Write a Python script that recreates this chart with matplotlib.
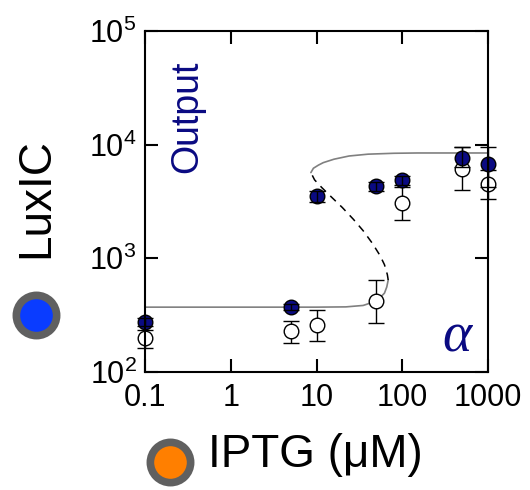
import matplotlib
matplotlib.use("Agg")
import matplotlib.pyplot as plt
import numpy as np

plt.rcParams['font.family'] = ['Liberation Sans', 'DejaVu Sans']
plt.rcParams['mathtext.fontset'] = 'custom'
plt.rcParams['mathtext.rm'] = 'Liberation Sans'
plt.rcParams['mathtext.it'] = 'Liberation Sans:italic'

# IPTG concentrations (uM)
iptg = [0.1, 5, 10, 50, 100, 500, 1000]

# LuxIC output, filled markers (mean, lower bound, upper bound)
filled_y = [275, 372, 3500, 4300, 4850, 7700, 6700]
filled_lo = [255, 352, 3100, 3950, 4450, 6300, 4200]
filled_hi = [297, 393, 3950, 4700, 5300, 9600, 9600]

# LuxIC output, open markers (mean, lower bound, upper bound)
open_y = [199, 229, 258, 420, 3090, 6170, 4480]
open_lo = [162, 180, 187, 269, 2190, 3960, 3310]
open_hi = [236, 280, 350, 641, 4200, 9600, 6000]

# Model curve: lower stable, unstable and upper stable branches
low_x = [0.1, 1, 10, 22, 35, 45, 55, 62, 66, 68.6]
low_y = [372, 372, 372, 374, 385, 410, 450, 494, 560, 645]
mid_x = [68.6, 67, 62, 55, 45, 35, 27, 20, 15, 11.5, 9.5, 8.6]
mid_y = [645, 720, 880, 1060, 1350, 1750, 2200, 2800, 3450, 4200, 4900, 5680]
high_x = [8.6, 9.2, 10.5, 12, 16, 24, 40, 80, 150, 400, 1000]
high_y = [5680, 6200, 6600, 6950, 7450, 7950, 8250, 8400, 8450, 8450, 8450]

xticks = [0.1, 1, 10, 100, 1000]
xticklabels = ['0.1', '1', '10', '100', '1000']
yticks = [1e2, 1e3, 1e4, 1e5]
yticklabels = [r'$10^{2}$', r'$10^{3}$', r'$10^{4}$', r'$10^{5}$']

W, H = 530, 490
fig = plt.figure(figsize=(W / 100, H / 100), dpi=100)
ax = fig.add_axes([145 / W, 1 - 372 / H, (488 - 145) / W, (372 - 31) / H])
ax.set_xscale('log')
ax.set_yscale('log')
ax.set_xlim(0.1, 1000)
ax.set_ylim(100, 1e5)

navy = '#0a0a82'
ax.plot(low_x, low_y, color='#808080', lw=1.2, zorder=2, solid_capstyle='round')
ax.plot(high_x, high_y, color='#808080', lw=1.2, zorder=2, solid_capstyle='round')
ax.plot(mid_x, mid_y, color='black', lw=1.1, ls=(0, (5, 4)), zorder=2)

fy = np.array(filled_y)
oy = np.array(open_y)
ax.errorbar(iptg, open_y, yerr=[oy - np.array(open_lo), np.array(open_hi) - oy],
            fmt='o', ms=10.5, mfc='white', mec='black', mew=1.0,
            ecolor='black', elinewidth=1.0, capsize=5.5, capthick=1.0,
            zorder=3, clip_on=False)
ax.plot(iptg, filled_y, 'o', ms=10.5, mfc=navy, mec='black', mew=1.0,
        zorder=4, clip_on=False)
ax.errorbar(iptg, filled_y, yerr=[fy - np.array(filled_lo), np.array(filled_hi) - fy],
            fmt='none', ecolor='black', elinewidth=1.0, capsize=5.5, capthick=1.0,
            zorder=5, clip_on=False)

ax.set_xticks(xticks)
ax.set_xticklabels(xticklabels)
ax.set_yticks(yticks)
ax.set_yticklabels(yticklabels)
ax.minorticks_off()
ax.tick_params(axis='both', which='major', direction='in', length=9.5, width=1.5,
               labelsize=22, top=True, right=True)
ax.tick_params(axis='x', pad=8)
ax.tick_params(axis='y', pad=6)
for s in ax.spines.values():
    s.set_linewidth(1.5)
    s.set_zorder(6)

ax.text(0.122, 0.748, 'Output', transform=ax.transAxes, rotation=90,
        color=navy, fontsize=27, ha='center', va='center',
        family=['Liberation Sans Narrow', 'Liberation Sans'])
ax.text(0.91, 0.10, '\u03b1', transform=ax.transAxes, color=navy,
        fontsize=40, ha='center', va='center', style='italic',
        family=['Liberation Serif', 'DejaVu Serif'])

# Axis titles with coloured dot badges
fig.text(208 / W, 1 - 455 / H, 'IPTG (\u03bcM)', fontsize=33, ha='left', va='center')
fig.text(36 / W, 1 - 198 / H, 'LuxIC', fontsize=33, ha='center', va='center', rotation=90)


def badge(cx, cy, face):
    fig.add_artist(plt.Line2D([cx / W], [1 - cy / H], marker='o', ms=29,
                              mfc=face, mec='#606060', mew=5.5,
                              transform=fig.transFigure))


badge(36, 315, '#0a3cff')
badge(170, 462, '#ff7f00')

fig.savefig('out.png', dpi=100)
